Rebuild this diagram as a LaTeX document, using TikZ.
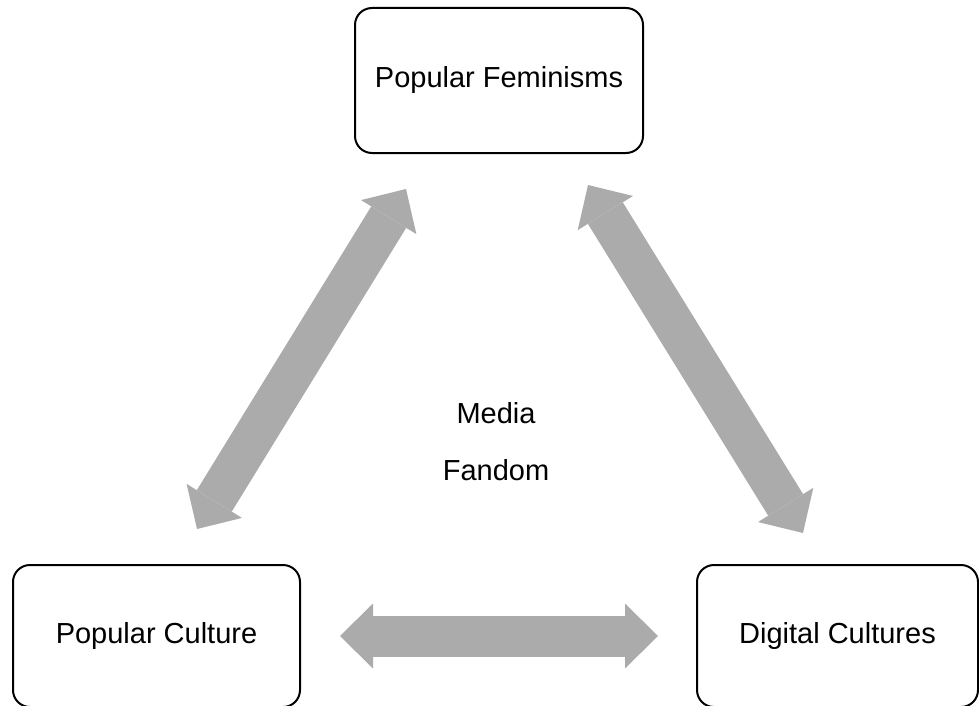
\documentclass[tikz,border=0pt]{standalone}
\usepackage{fontspec}
\setmainfont{Liberation Sans}
\usetikzlibrary{arrows.meta}
\definecolor{linkgray}{RGB}{171,171,171}

\begin{document}
\begin{tikzpicture}[x=1pt,y=-1pt,
	theme/.style={draw=black,line width=2pt,rounded corners=17pt,inner sep=0pt,font=\fontsize{29}{35}\selectfont},
	link/.style={linkgray,line width=41pt,{Triangle[width=65pt,length=33pt,line width=0pt]}-{Triangle[width=65pt,length=33pt,line width=0pt]}}]

%fix the frame
\useasboundingbox (0,0) rectangle (979,706);

%draw the three boxes
\node[theme,minimum width=288pt,minimum height=145pt] (ptop) at (499,80.5) {Popular Feminisms};
\node[theme,minimum width=287pt,minimum height=142pt] (pcult) at (156.5,636) {Popular Culture};
\node[theme,minimum width=281pt,minimum height=142pt] (pdig) at (837.5,636) {Digital Cultures};

%label centre
\node[font=\fontsize{29}{57}\selectfont,align=center] (fandom) at (496,441.5) {Media\\Fandom};

%draw double arrows
\draw[link] ([xshift=52pt,yshift=-35pt]ptop.south west) -- ([xshift=40.5pt,yshift=35pt]pcult.north);
\draw[link] ([xshift=-56pt,yshift=-31pt]ptop.south east) -- ([xshift=-34.5pt,yshift=31pt]pdig.north);
\draw[link,shorten <=39pt,shorten >=38pt] (pcult.east) -- (pdig.west);

\end{tikzpicture}
\end{document}
